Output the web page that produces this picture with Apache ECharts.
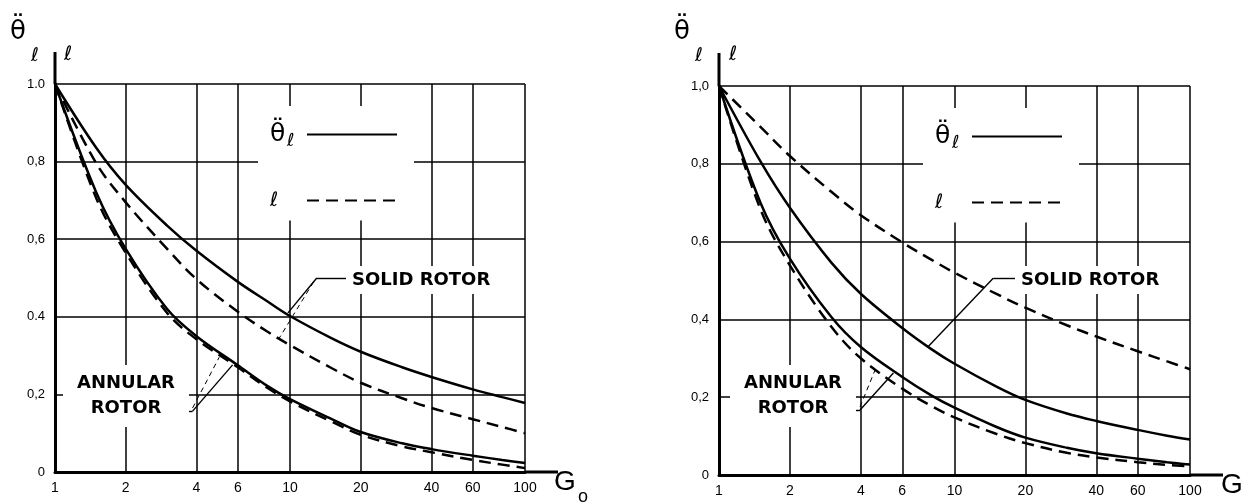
<!DOCTYPE html>
<html>
<head>
<meta charset="utf-8">
<script src="https://cdn.jsdelivr.net/npm/echarts/dist/echarts.min.js"></script>
<style>
  html, body { margin: 0; padding: 0; background: #fff; }
  #main { width: 1255px; height: 504px; }
</style>
</head>
<body>
<div id="main"></div>
<script>
const gPoints = [1, 1.5, 2, 3, 4, 6, 8, 10, 15, 20, 30, 40, 60, 80, 100];

// left panel
const solidThetaL = [1.0, 0.835, 0.74, 0.635, 0.57, 0.49, 0.44, 0.402, 0.345, 0.31, 0.27, 0.245, 0.213, 0.193, 0.178];
const solidEllL   = [1.0, 0.795, 0.695, 0.575, 0.497, 0.413, 0.362, 0.327, 0.268, 0.23, 0.19, 0.165, 0.136, 0.116, 0.10];
const annThetaL   = [1.0, 0.72, 0.575, 0.42, 0.35, 0.275, 0.222, 0.188, 0.137, 0.103, 0.074, 0.059, 0.042, 0.031, 0.023];
const annEllL     = [1.0, 0.705, 0.565, 0.41, 0.342, 0.27, 0.217, 0.182, 0.13, 0.096, 0.066, 0.051, 0.031, 0.019, 0.01];

// right panel
const solidThetaR = [1.0, 0.806, 0.687, 0.546, 0.466, 0.378, 0.323, 0.286, 0.228, 0.193, 0.158, 0.139, 0.116, 0.101, 0.091];
const solidEllR   = [1.0, 0.895, 0.82, 0.728, 0.668, 0.598, 0.553, 0.52, 0.466, 0.43, 0.385, 0.356, 0.318, 0.292, 0.272];
const annThetaR   = [1.0, 0.70, 0.556, 0.406, 0.329, 0.252, 0.204, 0.173, 0.124, 0.096, 0.07, 0.056, 0.042, 0.033, 0.027];
const annEllR     = [1.0, 0.683, 0.539, 0.381, 0.30, 0.222, 0.177, 0.148, 0.106, 0.082, 0.057, 0.045, 0.033, 0.026, 0.022];

// ticks
const xTicks = [1, 2, 4, 6, 10, 20, 40, 60, 100];
const yTicks = [0, 0.2, 0.4, 0.6, 0.8, 1.0];
const yTickLabelsL = ['0', '0,2', '0.4', '0,6', '0,8', '1.0'];
const yTickLabelsR = ['0', '0,2', '0,4', '0,6', '0,8', '1,0'];

const THETA = 'θ̈ℓ';
const ELL = 'ℓ';
const FONT = '"DejaVu Sans", sans-serif';
const LABEL_FONT = '"Liberation Sans", Arial, sans-serif';

function pairs(vals) {
  return gPoints.map((g, i) => [g, vals[i]]);
}

function xAxisFor(idx) {
  return {
    type: 'log', gridIndex: idx, logBase: 10, min: 1, max: 100,
    axisLine: { show: true, lineStyle: { color: '#000', width: 3 } },
    axisTick: { show: false, customValues: xTicks },
    axisLabel: {
      customValues: xTicks, margin: 9, color: '#000',
      fontFamily: LABEL_FONT, fontSize: 14,
      formatter: v => String(v)
    },
    splitLine: { show: true, lineStyle: { color: '#000', width: 1.5 } }
  };
}

function yAxisFor(idx, labels) {
  return {
    type: 'value', gridIndex: idx, min: 0, max: 1, interval: 0.2,
    axisLine: { show: true, lineStyle: { color: '#000', width: 3 } },
    axisTick: { show: false },
    axisLabel: {
      margin: 10, color: '#000', fontFamily: LABEL_FONT, fontSize: 13,
      formatter: v => labels[yTicks.findIndex(t => Math.abs(t - v) < 1e-6)]
    },
    splitLine: { show: true, lineStyle: { color: '#000', width: 1.5 } }
  };
}

function curve(name, vals, idx, dashed, leaders) {
  const s = {
    name: name, type: 'line', xAxisIndex: idx, yAxisIndex: idx,
    data: pairs(vals), smooth: 0.35, symbol: 'none', silent: true,
    itemStyle: { color: '#000' },
    lineStyle: { color: '#000', width: 2.5, type: dashed ? [12, 7] : 'solid' },
    z: 3
  };
  if (leaders) {
    s.markLine = {
      silent: true, symbol: 'none', label: { show: false },
      data: leaders.map(l => [
        { coord: l[0], lineStyle: { color: '#000', width: l[2] ? 1 : 1.4, type: l[2] ? [5, 4] : 'solid' } },
        { coord: l[1] }
      ])
    };
  }
  return s;
}

function legendName(name) {
  return name === THETA ? '{t|θ̈}{s|ℓ}' : '{w|ℓ}';
}

function legendFor(left, top) {
  return {
    orient: 'vertical', left: left, top: top, align: 'right',
    itemWidth: 90, itemHeight: 12, itemGap: 40,
    padding: [16, 16, 10, 12],
    backgroundColor: '#fff', selectedMode: false,
    itemStyle: { opacity: 0 },
    data: [THETA, ELL],
    formatter: legendName,
    textStyle: {
      color: '#000',
      rich: {
        t: { fontFamily: FONT, fontSize: 25, width: 17, lineHeight: 32, align: 'left' },
        s: { fontFamily: FONT, fontSize: 18, width: 15, lineHeight: 14, align: 'left', verticalAlign: 'bottom' },
        w: { fontFamily: FONT, fontSize: 20, width: 32, lineHeight: 32, align: 'left' }
      }
    }
  };
}

function txt(x, y, text, size, extra) {
  return {
    type: 'text', x: x, y: y, z: 50,
    style: Object.assign({ text: text, fill: '#000', font: size + 'px ' + FONT }, extra || {})
  };
}

function line(x1, y1, x2, y2) {
  return { type: 'line', z: 50, shape: { x1: x1, y1: y1, x2: x2, y2: y2 }, style: { stroke: '#000', lineWidth: 3 } };
}

const solidLabel = { font: 'bold 18px ' + FONT, verticalAlign: 'middle', backgroundColor: '#fff', padding: [5, 6] };
const annularLabel = {
  font: 'bold 18px ' + FONT, align: 'center', verticalAlign: 'middle',
  lineHeight: 25, padding: [6, 14], backgroundColor: '#fff'
};

const option = {
  backgroundColor: '#fff',
  animation: false,
  grid: [
    { left: 55, top: 84, width: 470, height: 388 },
    { left: 719, top: 86, width: 471, height: 389 }
  ],
  xAxis: [xAxisFor(0), xAxisFor(1)],
  yAxis: [yAxisFor(0, yTickLabelsL), yAxisFor(1, yTickLabelsR)],
  legend: [legendFor(258, 106), legendFor(923, 108)],
  series: [
    curve(THETA, solidThetaL, 0, false, [
      [[13, 0.5], [17.5, 0.5], false],
      [[13, 0.5], [9.8, 0.41], false],
      [[12.6, 0.49], [9.0, 0.345], true]
    ]),
    curve(ELL, solidEllL, 0, true),
    curve(THETA, annThetaL, 0, false, [
      [[3.0, 0.157], [3.85, 0.157], false],
      [[3.85, 0.157], [5.7, 0.276], false],
      [[3.85, 0.165], [5.0, 0.296], true]
    ]),
    curve(ELL, annEllL, 0, true),

    curve(THETA, solidThetaR, 1, false, [
      [[14.6, 0.506], [18.6, 0.506], false],
      [[14.6, 0.506], [7.7, 0.329], false]
    ]),
    curve(ELL, solidEllR, 1, true),
    curve(THETA, annThetaR, 1, false, [
      [[3.0, 0.167], [3.97, 0.167], false],
      [[3.97, 0.167], [5.5, 0.262], false],
      [[3.97, 0.175], [4.6, 0.27], true]
    ]),
    curve(ELL, annEllR, 1, true)
  ],
  graphic: [
    // axis overhangs
    line(55, 52, 55, 84), line(525, 472, 558, 472),
    line(719, 53, 719, 86), line(1190, 475, 1223, 475),

    // y axis titles
    txt(10, 19, 'θ̈', 26), txt(31, 47, 'ℓ', 19), txt(64, 45, 'ℓ', 20),
    txt(674, 19, 'θ̈', 26), txt(695, 47, 'ℓ', 19), txt(729, 45, 'ℓ', 20),

    // x axis titles
    txt(554, 468, 'G', 28, { font: '28px ' + LABEL_FONT }),
    txt(578, 488, 'o', 18, { font: '18px ' + LABEL_FONT }),
    txt(1221, 471, 'G', 28, { font: '28px ' + LABEL_FONT }),

    // curve labels
    txt(346, 280, 'SOLID ROTOR', 18, solidLabel),
    txt(126, 396, 'ANNULAR\nROTOR', 18, annularLabel),
    txt(1015, 280, 'SOLID ROTOR', 18, solidLabel),
    txt(793, 396, 'ANNULAR\nROTOR', 18, annularLabel)
  ]
};

const chart = echarts.init(document.getElementById('main'));
chart.setOption(option);
</script>
</body>
</html>
